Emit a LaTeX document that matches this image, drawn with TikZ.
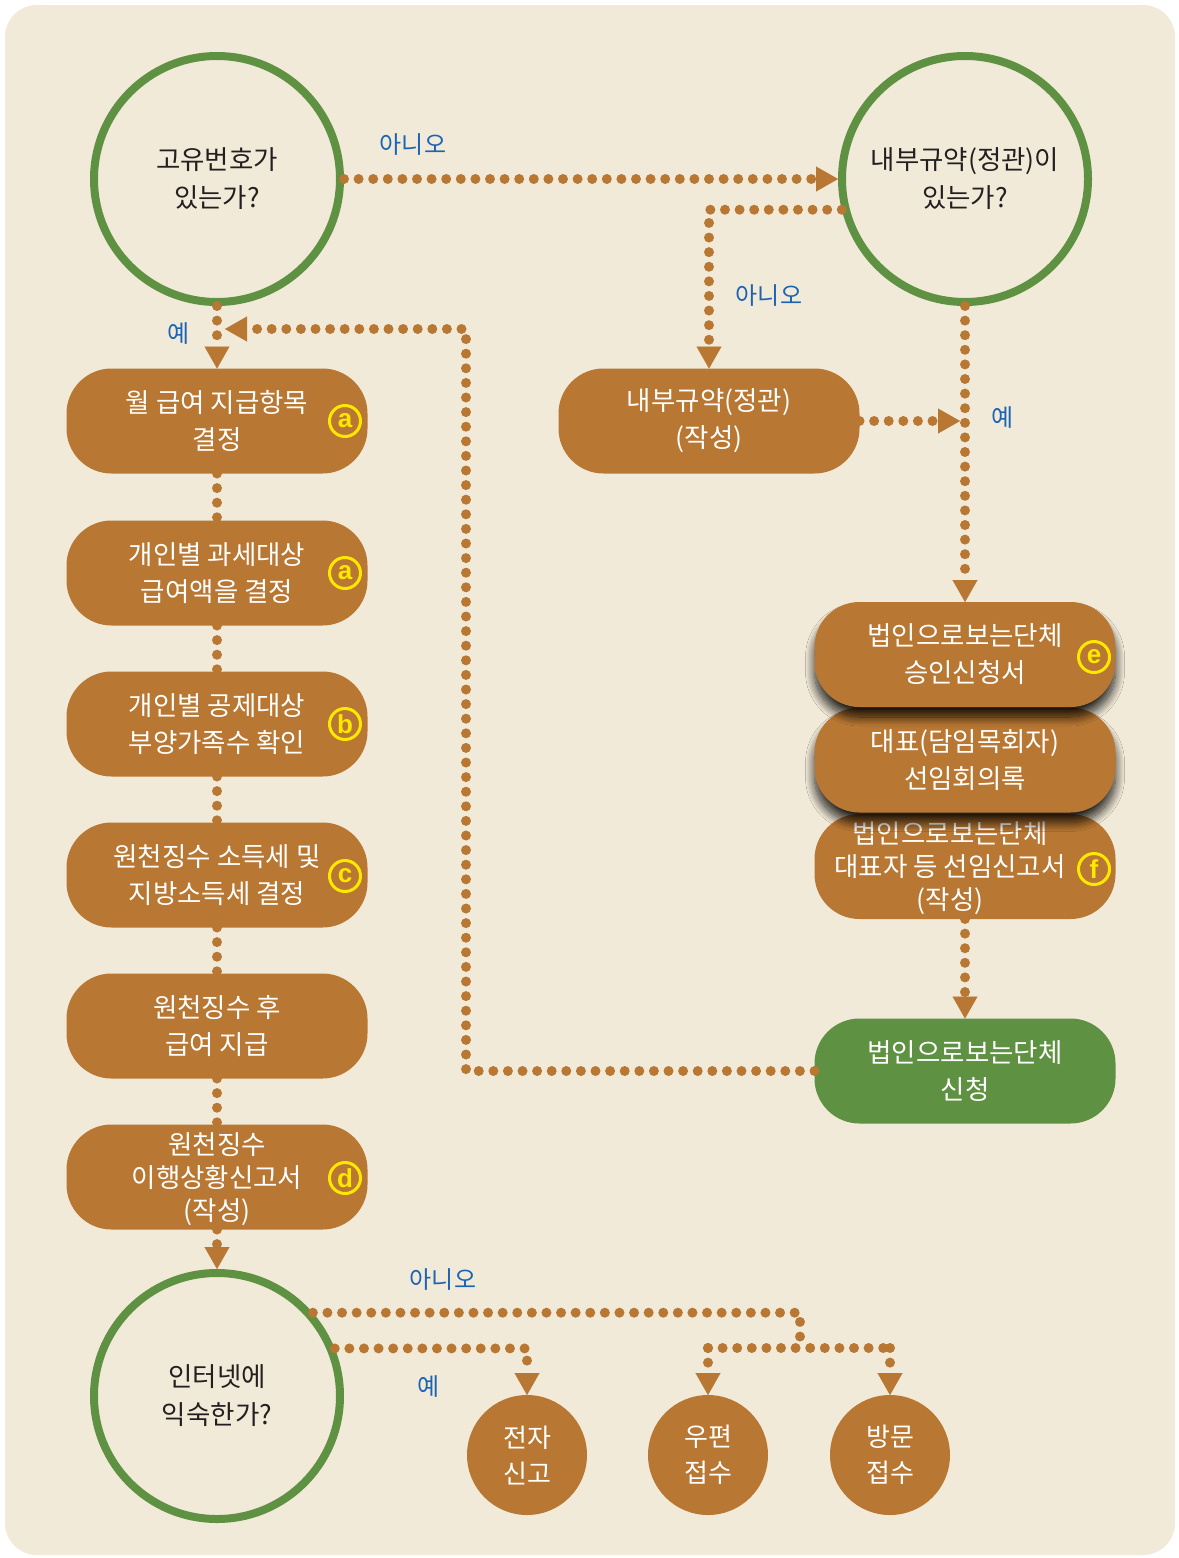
\documentclass[tikz,border=0pt]{standalone}
\usepackage{fontspec}
\setmainfont{Noto Sans CJK KR}
\newfontfamily\latf{Liberation Sans}
\usetikzlibrary{arrows.meta,shadows.blur}
\definecolor{bgc}{HTML}{F2EAD8}
\definecolor{brn}{HTML}{B87732}
\definecolor{grn}{HTML}{5F9142}
\definecolor{blu}{HTML}{1B64B4}
\definecolor{ylw}{HTML}{FFE800}
\definecolor{txt}{HTML}{231F20}
\begin{document}
\begin{tikzpicture}[x=1pt,y=-1pt,
  every node/.style={inner sep=0pt,outer sep=0pt},
  gcirc/.style={circle,draw=grn,line width=8pt,outer sep=4pt,minimum size=246pt,text=txt,align=center,font=\fontsize{26.5}{38}\selectfont},
  rbox/.style={rectangle,rounded corners=45pt,fill=brn,minimum width=301pt,minimum height=105pt,text=white,align=center,font=\fontsize{26.5}{37}\selectfont},
  gbox/.style={rbox,fill=grn},
  shbox/.style={rbox,blur shadow={shadow xshift=0pt,shadow yshift=-10pt,shadow blur radius=9pt,shadow blur steps=16,shadow opacity=85}},
  btxt/.style={text=white,align=center,font=\fontsize{26.5}{33}\selectfont},
  scirc/.style={circle,fill=brn,minimum size=120pt,text=white,align=center,font=\fontsize{26}{36}\selectfont},
  mk/.style={circle,draw=ylw,line width=3pt,minimum size=31pt,text=ylw,font=\latf\bfseries\fontsize{26}{26}\selectfont},
  lbl/.style={text=blu,font=\fontsize{24}{28}\selectfont},
  dotl/.style={draw=brn,line width=10pt,line cap=round,dash pattern=on 0pt off 14.6pt},
  arr/.style={dotl,-{Triangle[length=22pt,width=25pt,line width=0.1pt]}}
]
% frame
\fill[white] (0,0) rectangle (1178,1558);
\fill[bgc,rounded corners=32pt] (5,5) rectangle (1175,1555);

% decision circles
\node[gcirc] (q1) at (217,179) {고유번호가\\있는가?};
\node[gcirc] (q2) at (965,179) {내부규약(정관)이\\있는가?};
\node[gcirc] (q3) at (217,1396) {인터넷에\\익숙한가?};

% left column
\node[rbox] (b1) at (217,421) {월 급여 지급항목\\결정};
\node[rbox] (b2) at (217,573) {개인별 과세대상\\급여액을 결정};
\node[rbox] (b3) at (217,724) {개인별 공제대상\\부양가족수 확인};
\node[rbox] (b4) at (217,875) {원천징수 소득세 및\\지방소득세 결정};
\node[rbox] (b5) at (217,1026) {원천징수 후\\급여 지급};
\node[rbox] (b6) at (217,1177) {};
\node[btxt] (b6t) at (217,1179) {원천징수\\이행상황신고서\\(작성)};

% right column
\node[rbox] (nb) at (709,421) {내부규약(정관)\\(작성)};
\node[rbox] (fb) at (965,866.5) {};
\node[btxt] (fbt) at (950,868) {법인으로보는단체\\대표자 등 선임신고서\\(작성)};
\node[shbox] (mb) at (965,760) {대표(담임목회자)\\선임회의록};
\node[shbox] (eb) at (965,654.5) {법인으로보는단체\\승인신청서};
\node[gbox] (gb) at (965,1071) {법인으로보는단체\\신청};

% marks
\node[mk] (m1) at (345,421) {a};
\node[mk] (m2) at (345,573) {a};
\node[mk] (m3) at (345,724) {b};
\node[mk] (m4) at (345,876) {c};
\node[mk] (m5) at (345,1178) {d};
\node[mk] (m6) at (1094,657) {e};
\node[mk] (m7) at (1094,869) {f};

% result circles
\node[scirc] (el) at (527,1455) {전자\\신고};
\node[scirc] (up) at (708,1455) {우편\\접수};
\node[scirc] (bm) at (890,1455) {방문\\접수};

% helper coordinates
\coordinate (j1) at (960,421);
\coordinate (c2) at (466,329);
\coordinate (c3) at (225,329);
\coordinate (n2) at (800,1348);
\coordinate (p1) at (708,1348);
\coordinate (p2) at (890,1348);

% connectors
\draw[arr] (q1.east) -- (q2.west);
\draw[arr] (q2.194) -| (nb.north);
\draw[arr] (nb.east) -- (j1);
\draw[arr] (q2.south) -- (eb.north);
\draw[arr] (fb.south) -- (gb.north);
\draw[arr] (gb.west) -| (c2) -- (c3);
\draw[arr] (q1.south) -- (b1.north);
\draw[dotl] (b1.south) -- (b2.north);
\draw[dotl] (b2.south) -- (b3.north);
\draw[dotl] (b3.south) -- (b4.north);
\draw[dotl] (b4.south) -- (b5.north);
\draw[dotl] (b5.south) -- (b6.north);
\draw[arr] (b6.south) -- (q3.north);
\draw[dotl] (q3.41) -| (n2);
\draw[dotl] (p1) -- (p2);
\draw[arr] (p1) -- (up.north);
\draw[arr] (p2) -- (bm.north);
\draw[arr] (q3.22) -| (el.north);

% labels
\node[lbl] (l1) at (413,145) {아니오};
\node[lbl] (l2) at (769,296) {아니오};
\node[lbl] (l3) at (1003,418) {예};
\node[lbl] (l4) at (179,334) {예};
\node[lbl] (l5) at (443,1279) {아니오};
\node[lbl] (l6) at (429,1386) {예};
\end{tikzpicture}
\end{document}
